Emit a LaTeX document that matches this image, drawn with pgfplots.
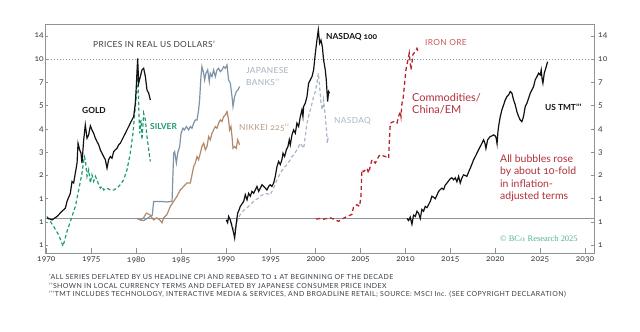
\documentclass[border=0pt]{standalone}
\usepackage{fontspec}
\setmainfont{Lato}[Numbers=OldStyle]
\newfontfamily\capsfont{Lato}[Numbers=OldStyle, LetterSpace=4]
\newfontfamily\footfont{Lato}[Numbers=OldStyle, LetterSpace=6]
\newfontfamily\bcafont{Liberation Serif}[Numbers=OldStyle]
\usepackage{pgfplots}
\pgfplotsset{compat=1.18}
\definecolor{framegray}{HTML}{8E9399}
\definecolor{tickgray}{HTML}{3A3F45}
\definecolor{goldblack}{HTML}{111111}
\definecolor{silvergreen}{HTML}{1F9B72}
\definecolor{banks}{HTML}{7D93A8}
\definecolor{bankslbl}{HTML}{A3B1C2}
\definecolor{nikkei}{HTML}{B28A6B}
\definecolor{nikkeilbl}{HTML}{B79C86}
\definecolor{nasdaqdash}{HTML}{A9B6C6}
\definecolor{ironred}{HTML}{B3262C}
\definecolor{ironlbl}{HTML}{C65A5E}
\definecolor{textred}{HTML}{B0303A}
\definecolor{bca}{HTML}{4FB38F}
\newcommand{\pr}{\textquoteright}
\begin{document}
\begin{tikzpicture}[x=1bp,y=1bp]
\path[use as bounding box] (0,0) rectangle (640,331);
\begin{axis}[
  at={(45bp,78bp)}, anchor=south west, scale only axis,
  width=549bp, height=229bp,
  xmin=1969.85, xmax=2031,
  ymode=log, ymin=0.607, ymax=16.65,
  /pgf/number format/assume math mode=true,
  axis line style={framegray, line width=0.8bp},
  xtick={1970,1975,...,2030}, xtick pos=bottom,
  xticklabel style={/pgf/number format/1000 sep={}, font=\fontsize{8.5}{10}\selectfont, text=tickgray, inner sep=1bp, yshift=-3bp},
  xtick style={framegray, line width=0.8bp, /pgfplots/major tick length=5bp},
  ytick={0.6776,0.9486,1.328,1.859,2.603,3.644,5.102,7.143,10,14},
  yticklabels={1,1,1,2,3,4,5,7,10,14},
  yminorticks=false, ytick pos=both, yticklabel pos=left,
  yticklabel style={font=\fontsize{8.5}{10}\selectfont, text=tickgray, inner sep=1bp},
  ytick style={framegray, line width=0.8bp, /pgfplots/major tick length=3bp},
  tick align=inside,
]
% reference lines
\addplot[framegray, line width=1bp] coordinates {(1969.85,1) (2031,1)};
\addplot[framegray, line width=1bp, dash pattern=on 1bp off 2bp] coordinates {(1969.85,10) (2031,10)};
% Silver
\addplot[silvergreen, line width=1.2bp, dash pattern=on 3.5bp off 2.5bp] coordinates {
(1970.07,1.03)(1970.82,0.89)(1971.37,0.79)(1971.86,0.67)(1972.30,0.83)(1972.86,1.03)(1973.23,1.19)(1973.60,1.51)(1973.97,1.93)(1974.23,2.45)(1974.34,2.34)(1974.53,1.84)(1974.71,2.02)(1974.90,1.67)(1975.08,1.88)(1975.27,1.71)(1975.46,1.84)(1975.64,1.75)(1975.83,1.63)(1976.01,1.55)(1976.20,1.59)(1976.38,1.51)(1976.76,1.55)(1977.13,1.51)(1977.50,1.51)(1977.87,1.55)(1978.24,1.63)(1978.61,1.75)(1978.98,2.02)(1979.35,2.57)(1979.65,3.43)(1979.84,4.58)(1980.02,5.83)(1980.17,8.8)(1980.28,5.29)(1980.39,3.43)(1980.54,4.16)(1980.65,3.12)(1980.84,4.58)(1981.03,4.16)(1981.21,3.27)(1981.40,2.70)(1981.58,2.28)};
% Gold
\addplot[goldblack, line width=1.2bp] coordinates {
(1970.07,1.01)(1970.63,0.98)(1971.19,1.03)(1971.74,1.11)(1972.12,1.16)(1972.30,1.28)(1972.67,1.44)(1972.86,1.71)(1973.04,1.67)(1973.23,1.93)(1973.42,2.23)(1973.53,2.97)(1973.71,2.70)(1973.86,2.57)(1973.97,2.23)(1974.16,3.12)(1974.34,3.87)(1974.53,3.19)(1974.71,3.35)(1974.90,3.82)(1975.08,3.60)(1975.27,3.43)(1975.46,3.19)(1975.64,3.04)(1975.83,2.90)(1976.01,2.70)(1976.20,2.57)(1976.38,2.45)(1976.57,2.34)(1976.76,2.07)(1976.94,2.34)(1977.13,2.45)(1977.31,2.39)(1977.50,2.63)(1977.68,2.70)(1977.87,2.76)(1978.06,2.90)(1978.24,2.97)(1978.43,3.12)(1978.61,3.27)(1978.80,3.43)(1978.98,3.60)(1979.17,3.78)(1979.35,3.97)(1979.54,4.16)(1979.73,4.37)(1979.91,5.29)(1980.02,6.74)(1980.17,10.14)(1980.28,7.07)(1980.47,7.78)(1980.65,8.57)(1980.84,8.78)(1981.03,7.78)(1981.21,6.42)(1981.40,6.12)(1981.58,5.55)};
% Japanese banks
\addplot[banks, line width=1.2bp] coordinates {
(1980.1,1.0)(1980.47,0.98)(1980.84,0.97)(1981.21,1.0)(1981.58,1.03)(1981.8,1.05)(1981.95,1.28)(1982.7,1.28)(1983.44,1.27)(1984.0,1.28)(1984.18,2.57)(1984.29,2.63)(1984.48,2.23)(1984.63,2.57)(1984.85,2.83)(1985.0,3.43)(1985.22,3.69)(1985.40,3.60)(1985.59,3.78)(1985.85,3.60)(1986.04,3.78)(1986.22,3.69)(1986.41,3.97)(1986.59,4.16)(1986.78,4.16)(1986.96,4.81)(1987.07,5.55)(1987.22,7.78)(1987.33,8.99)(1987.52,8.17)(1987.63,7.42)(1987.78,8.17)(1987.97,8.57)(1988.15,7.24)(1988.26,8.17)(1988.45,7.78)(1988.63,8.57)(1988.82,7.78)(1989.01,8.57)(1989.19,8.78)(1989.38,8.36)(1989.56,8.57)(1989.75,8.99)(1989.93,8.78)(1990.12,9.21)(1990.30,7.42)(1990.49,7.07)(1990.68,5.83)(1990.79,5.05)(1990.97,5.83)(1991.16,6.27)(1991.34,6.42)(1991.53,6.74)};
% Nikkei 225
\addplot[nikkei, line width=1.2bp] coordinates {
(1980.1,1.0)(1980.47,0.98)(1980.84,1.01)(1981.13,1.08)(1981.5,1.06)(1981.95,0.98)(1982.3,1.01)(1982.7,0.97)(1982.88,0.94)(1983.07,1.01)(1983.44,1.06)(1983.81,1.19)(1984.18,1.28)(1984.55,1.38)(1984.92,1.51)(1985.29,1.59)(1985.67,1.67)(1986.04,1.67)(1986.22,1.88)(1986.41,2.12)(1986.59,2.23)(1986.78,2.45)(1986.96,2.34)(1987.15,2.57)(1987.33,2.83)(1987.52,2.97)(1987.71,2.70)(1987.89,2.83)(1988.08,3.27)(1988.26,3.12)(1988.45,3.43)(1988.63,3.60)(1988.82,3.78)(1989.01,3.69)(1989.19,3.97)(1989.38,4.16)(1989.56,4.06)(1989.75,4.37)(1989.93,4.47)(1990.12,4.69)(1990.30,4.16)(1990.41,3.60)(1990.56,3.78)(1990.68,3.27)(1990.79,2.76)(1990.97,2.83)(1991.16,2.76)(1991.31,3.12)(1991.46,2.97)(1991.53,2.90)};
% NASDAQ (dashed)
\addplot[nasdaqdash, line width=1.2bp, dash pattern=on 3.5bp off 2.5bp] coordinates {
(1990.04,1.0)(1990.5,0.97)(1990.86,0.86)(1991.0,0.84)(1991.3,0.98)(1991.6,1.06)(1992.0,1.13)(1992.53,1.19)(1993.09,1.28)(1993.5,1.33)(1993.83,1.38)(1994.39,1.44)(1994.94,1.41)(1995.32,1.55)(1995.69,1.75)(1996.06,1.93)(1996.43,2.07)(1996.8,2.18)(1997.17,2.34)(1997.36,2.45)(1997.54,2.50)(1997.91,2.70)(1998.29,2.97)(1998.66,2.76)(1998.84,3.27)(1999.03,3.97)(1999.21,4.37)(1999.40,4.81)(1999.59,5.29)(1999.77,5.83)(1999.96,6.27)(2000.14,7.07)(2000.29,8.17)(2000.44,6.74)(2000.59,5.29)(2000.74,4.81)(2000.88,5.55)(2001.07,4.37)(2001.2,3.6)(2001.3,2.97)(2001.4,3.3)};
% NASDAQ 100
\addplot[goldblack, line width=1.2bp] coordinates {
(1990.04,0.98)(1990.19,0.94)(1990.30,1.03)(1990.49,0.98)(1990.68,0.89)(1990.86,0.81)(1990.97,0.754)(1991.16,0.94)(1991.31,1.08)(1991.46,1.13)(1991.6,1.19)(1991.98,1.28)(1992.16,1.41)(1992.35,1.31)(1992.53,1.44)(1992.72,1.38)(1992.90,1.48)(1993.09,1.44)(1993.27,1.51)(1993.46,1.59)(1993.65,1.48)(1993.83,1.55)(1994.02,1.63)(1994.20,1.59)(1994.39,1.55)(1994.57,1.51)(1994.76,1.59)(1994.94,1.63)(1995.13,1.59)(1995.32,1.67)(1995.50,1.84)(1995.69,2.12)(1995.87,2.28)(1996.06,2.18)(1996.24,2.34)(1996.36,2.57)(1996.54,2.45)(1996.73,2.70)(1996.91,2.83)(1997.06,3.12)(1997.17,2.90)(1997.36,3.35)(1997.54,3.60)(1997.73,3.43)(1997.91,3.97)(1998.10,3.78)(1998.29,4.37)(1998.47,4.81)(1998.58,4.37)(1998.66,5.05)(1998.84,5.29)(1999.03,5.83)(1999.21,7.07)(1999.40,7.42)(1999.59,7.78)(1999.77,8.57)(1999.96,10.9)(2000.14,13.2)(2000.29,15.3)(2000.44,12.6)(2000.59,13.2)(2000.74,12.0)(2000.88,9.9)(2001.07,8.57)(2001.18,7.42)(2001.33,5.42)(2001.44,6.27)(2001.55,6.12)};
% Iron ore
\addplot[ironred, line width=1.3bp, dash pattern=on 4bp off 3bp] coordinates {
(2000.07,0.99)(2000.51,1.0)(2000.88,0.99)(2001.25,1.0)(2001.63,1.01)(2002.18,0.98)(2002.55,0.96)(2002.93,0.99)(2003.48,1.03)(2004.04,1.06)(2004.22,1.19)(2004.60,1.22)(2004.89,1.19)(2005.04,1.38)(2005.15,2.02)(2005.34,1.97)(2005.71,2.07)(2005.89,1.93)(2006.27,2.34)(2006.64,2.23)(2007.01,2.45)(2007.19,2.51)(2007.75,2.45)(2008.12,2.39)(2008.23,3.27)(2008.31,3.97)(2008.68,4.06)(2009.05,3.97)(2009.24,4.37)(2009.42,4.69)(2009.50,4.37)(2009.61,5.29)(2009.72,5.55)(2009.87,6.74)(2010.05,8.57)(2010.27,9.9)(2010.42,10.9)(2010.61,8.57)(2010.72,9.43)(2010.83,10.7)(2011.09,11.2)(2011.28,11.7)(2011.46,10.9)};
% US TMT
\addplot[goldblack, line width=1.2bp] coordinates {
(2010.17,1.0)(2010.35,0.97)(2010.53,1.02)(2010.72,0.92)(2010.9,1.05)(2011.1,1.03)(2011.28,1.11)(2011.46,1.08)(2011.65,1.0)(2011.83,1.14)(2012.02,1.11)(2012.2,1.19)(2012.39,1.17)(2012.57,1.22)(2012.76,1.28)(2012.95,1.38)(2013.13,1.36)(2013.32,1.33)(2013.5,1.40)(2013.69,1.48)(2013.88,1.52)(2014.06,1.55)(2014.25,1.52)(2014.43,1.62)(2014.62,1.67)(2014.8,1.72)(2015.0,1.78)(2015.17,1.80)(2015.36,1.75)(2015.55,1.80)(2015.73,1.70)(2015.92,1.84)(2016.10,1.67)(2016.29,1.80)(2016.47,1.88)(2016.84,1.84)(2017.05,1.97)(2017.22,2.07)(2017.41,2.20)(2017.59,2.34)(2017.78,2.45)(2017.96,2.57)(2018.15,2.70)(2018.33,2.83)(2018.52,2.97)(2018.70,3.12)(2018.85,2.97)(2018.96,2.75)(2019.15,3.12)(2019.44,3.27)(2019.62,3.30)(2019.81,3.35)(2020.0,3.30)(2020.11,3.19)(2020.2,2.95)(2020.30,3.5)(2020.37,3.78)(2020.56,4.37)(2020.74,4.81)(2020.93,5.17)(2021.11,5.55)(2021.30,5.83)(2021.49,5.97)(2021.67,6.27)(2021.86,6.12)(2022.04,5.55)(2022.23,5.17)(2022.41,4.69)(2022.60,4.37)(2022.78,4.16)(2022.97,4.06)(2023.15,4.37)(2023.34,5.05)(2023.53,5.29)(2023.71,5.69)(2023.90,6.12)(2024.08,6.42)(2024.27,6.74)(2024.45,7.42)(2024.64,7.78)(2024.83,8.17)(2025.01,7.97)(2025.12,8.57)(2025.22,7.5)(2025.31,7.07)(2025.46,8.17)(2025.68,8.99)(2025.83,9.66)};
\end{axis}
% right-hand tick labels
\begin{axis}[
  at={(45bp,78bp)}, anchor=south west, scale only axis,
  width=549bp, height=229bp,
  xmin=1969.85, xmax=2031,
  ymode=log, ymin=0.607, ymax=16.65,
  /pgf/number format/assume math mode=true,
  axis x line=none, axis y line*=right,
  y axis line style={draw=none},
  ytick={0.6776,0.9486,1.328,1.859,2.603,3.644,5.102,7.143,10,14},
  yticklabels={1,1,1,2,3,4,5,7,10,14},
  yminorticks=false, ytick style={draw=none},
  yticklabel style={font=\fontsize{8.5}{10}\selectfont, text=tickgray, inner sep=1bp, xshift=3bp},
]
\end{axis}
% annotations
\node[anchor=west, text=tickgray, font=\capsfont\fontsize{8.4}{10}\selectfont, inner sep=0] at (93,287) {PRICES IN REAL US DOLLARS\pr};
\node[anchor=west, text=goldblack, font=\bfseries\fontsize{8.4}{10}\selectfont, inner sep=0] at (326,294.3) {NASDAQ 100};
\node[anchor=west, text=ironlbl, font=\capsfont\fontsize{8.4}{10}\selectfont, inner sep=0] at (425,288.3) {IRON ORE};
\node[anchor=west, text=bankslbl, font=\capsfont\fontsize{8.4}{10}\selectfont, inner sep=0] at (246,260) {JAPANESE};
\node[anchor=west, text=bankslbl, font=\capsfont\fontsize{8.4}{10}\selectfont, inner sep=0] at (246,249) {BANKS\pr\pr};
\node[anchor=west, text=goldblack, font=\bfseries\fontsize{8.4}{10}\selectfont, inner sep=0] at (82,221) {GOLD};
\node[anchor=west, text=silvergreen, font=\bfseries\fontsize{8.4}{10}\selectfont, inner sep=0] at (150,205) {SILVER};
\node[anchor=west, text=nikkeilbl, font=\capsfont\fontsize{8.4}{10}\selectfont, inner sep=0] at (239,203) {NIKKEI 225\pr\pr};
\node[anchor=west, text=nasdaqdash, font=\capsfont\fontsize{8.4}{10}\selectfont, inner sep=0] at (334,210) {NASDAQ};
\node[anchor=west, text=textred, font=\fontsize{11}{12}\selectfont, inner sep=0] at (412,233) {Commodities/};
\node[anchor=west, text=textred, font=\fontsize{11}{12}\selectfont, inner sep=0] at (412,221) {China/EM};
\node[anchor=west, text=goldblack, font=\bfseries\fontsize{8.4}{10}\selectfont, inner sep=0] at (545,223.3) {US TMT\pr\pr\pr};
\node[anchor=west, text=textred, font=\fontsize{10.5}{12}\selectfont, inner sep=0] at (500,172) {All bubbles rose};
\node[anchor=west, text=textred, font=\fontsize{10.5}{12}\selectfont, inner sep=0] at (500,159.3) {by about 10-fold};
\node[anchor=west, text=textred, font=\fontsize{10.5}{12}\selectfont, inner sep=0] at (500,147) {in inflation-};
\node[anchor=west, text=textred, font=\fontsize{10.5}{12}\selectfont, inner sep=0] at (500,134.3) {adjusted terms};
\node[anchor=west, text=bca, font=\bcafont\fontsize{8.5}{10}\selectfont, inner sep=0] at (500,92) {\textcopyright\ BC\(\alpha\) Research 2025};
\node[anchor=west, text=tickgray, font=\footfont\fontsize{7}{8}\selectfont, inner sep=0] at (49,54.3) {\pr ALL SERIES DEFLATED BY US HEADLINE CPI AND REBASED TO 1 AT BEGINNING OF THE DECADE};
\node[anchor=west, text=tickgray, font=\footfont\fontsize{7}{8}\selectfont, inner sep=0] at (49,45.3) {\pr\pr SHOWN IN LOCAL CURRENCY TERMS AND DEFLATED BY JAPANESE CONSUMER PRICE INDEX};
\node[anchor=west, text=tickgray, font=\footfont\fontsize{7}{8}\selectfont, inner sep=0] at (49,36.3) {\pr\pr\pr TMT INCLUDES TECHNOLOGY, INTERACTIVE MEDIA \& SERVICES, AND BROADLINE RETAIL; SOURCE: MSCI Inc. (SEE COPYRIGHT DECLARATION)};
\end{tikzpicture}
\end{document}
